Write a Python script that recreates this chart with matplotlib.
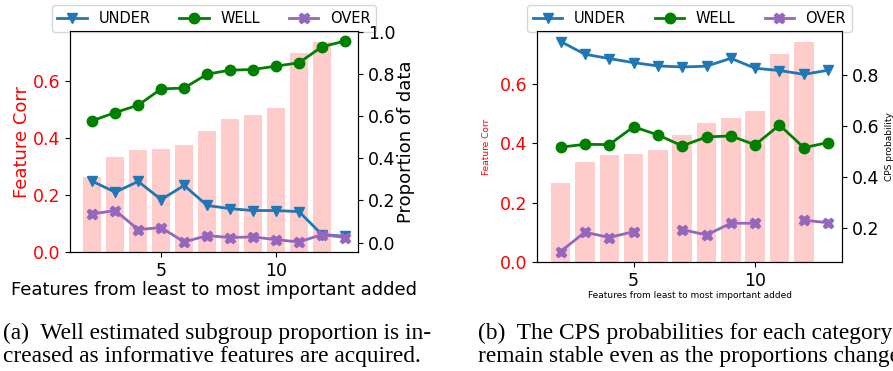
import numpy as np
import matplotlib
matplotlib.use('Agg')
import matplotlib.pyplot as plt

# Number of features added (x axis)
steps = np.arange(2, 14)
bar_steps = np.arange(2, 13)

# Feature correlation of each added feature (bars, left axis)
feature_corr = [0.265, 0.335, 0.36, 0.363, 0.377, 0.427, 0.469, 0.483, 0.508, 0.698, 0.740]

# (a) proportion of data in each estimation subgroup
prop_under = [0.291, 0.239, 0.290, 0.204, 0.271, 0.176, 0.161, 0.152, 0.152, 0.147, 0.038, 0.030]
prop_well = [0.578, 0.617, 0.652, 0.729, 0.733, 0.799, 0.818, 0.821, 0.837, 0.853, 0.929, 0.956]
prop_over = [0.136, 0.152, 0.062, 0.071, 0.003, 0.033, 0.024, 0.027, 0.014, 0.003, 0.038, 0.024]

# (b) CPS probability for each subgroup
cps_under = [0.931, 0.881, 0.864, 0.848, 0.835, 0.831, 0.834, 0.865, 0.826, 0.817, 0.802, 0.818]
cps_well = [0.516, 0.527, 0.526, 0.596, 0.564, 0.521, 0.556, 0.560, 0.525, 0.603, 0.514, 0.534]
cps_over = [0.106, 0.182, 0.161, 0.184, np.nan, 0.192, 0.171, 0.217, 0.217, np.nan, 0.229, 0.219]

caption_a = ["(a)  Well estimated subgroup proportion is in-",
             "creased as informative features are acquired."]
caption_b = ["(b)  The CPS probabilities for each category",
             "remain stable even as the proportions change"]

xlabel = 'Features from least to most important added'

fig = plt.figure(figsize=(8.93, 3.71), dpi=100)


def panel(rect, under, well, over, right_label, small):
    ax = fig.add_axes(rect)
    ax.bar(bar_steps, feature_corr, width=0.8, color='red', alpha=0.2)
    ax2 = ax.twinx()
    lu, = ax2.plot(steps, under, color='#1f77b4', marker='v', lw=2, ms=7.5, label='UNDER')
    lw_, = ax2.plot(steps, well, color='green', marker='o', lw=2, ms=7.5, label='WELL')
    lo, = ax2.plot(steps, over, color='#9467bd', marker='X', lw=2, ms=7.5, label='OVER')

    if small:
        ax.set_ylabel('Feature Corr', color='red', fontsize=6.5, labelpad=6)
        ax.set_xlabel(xlabel, fontsize=6.5, labelpad=1)
        ax2.set_ylabel(right_label, fontsize=6.5, labelpad=4)
    else:
        ax.set_ylabel('Feature Corr', color='red', fontsize=13, labelpad=1)
        ax.set_xlabel(xlabel, fontsize=13, labelpad=1)
        ax2.set_ylabel(right_label, fontsize=13, labelpad=1.5)
    ax.tick_params(axis='y', labelcolor='red', labelsize=12.5)
    ax.tick_params(axis='x', labelsize=12.5)
    ax2.tick_params(axis='y', labelsize=12.5)
    ax.set_xticks([5, 10])

    ax.legend(handles=[lu, lw_, lo], ncol=3, loc='lower center',
              bbox_to_anchor=(0.5, 0.995), borderaxespad=0, fontsize=10.5)
    return ax, ax2


panel([70 / 893, 119 / 371, 288 / 893, 221 / 371], prop_under, prop_well, prop_over,
      'Proportion of data', small=False)
panel([537 / 893, 109 / 371, 305 / 893, 231 / 371], cps_under, cps_well, cps_over,
      'CPS probability', small=True)

# sub-captions, one text per line so the baselines sit where wanted
for x0, lines in [(3, caption_a), (478, caption_b)]:
    for base, line in zip([339, 361.7], lines):
        fig.text(x0 / 893, 1 - base / 371, line, family='Liberation Serif',
                 fontsize=16.8, va='baseline')

fig.savefig('out.png', dpi=100)
